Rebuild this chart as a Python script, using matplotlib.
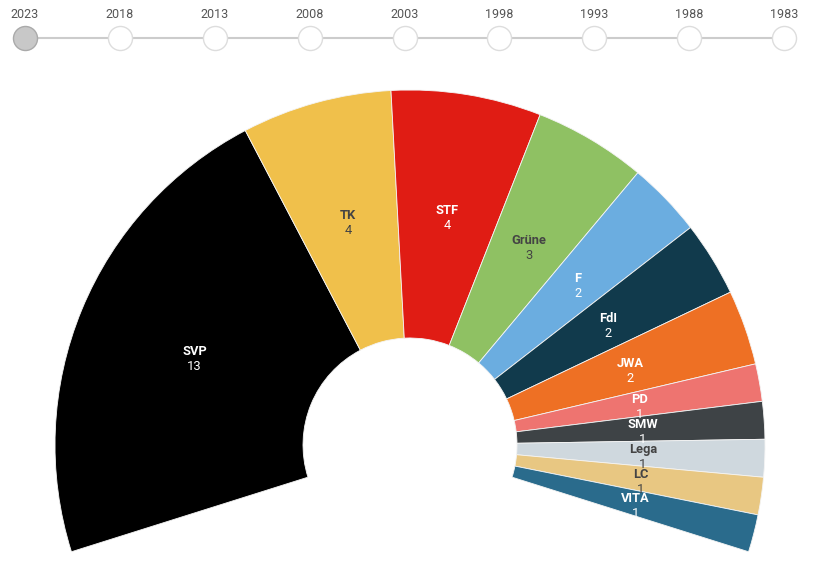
import numpy as np
import matplotlib.pyplot as plt

plt.rcParams['font.family'] = ['Roboto', 'DejaVu Sans']

# election years on the timeline (2023 is selected)
years = ['2023', '2018', '2013', '2008', '2003', '1998', '1993', '1988', '1983']
selected = '2023'

# seats per party, in the order they go round the arc
parties = ['SVP', 'TK', 'STF', 'Grüne', 'F', 'FdI', 'JWA', 'PD', 'SMW', 'Lega', 'LC', 'VITA']
seats = [13, 4, 4, 3, 2, 2, 2, 1, 1, 1, 1, 1]
colors = ['#000000', '#f0c04b', '#e01c14', '#8fc163', '#6badE0', '#113a4c', '#ee7024',
          '#ee7470', '#3e4346', '#cfd8de', '#e8c782', '#2a6b8c']
dark_text = ['TK', 'Grüne', 'Lega', 'LC']

W, H = 813, 564
fig = plt.figure(figsize=(W / 100, H / 100), dpi=100)
ax = fig.add_axes([0, 0, 1, 1])
ax.set_xlim(0, W)
ax.set_ylim(0, H)
ax.set_aspect('equal')
ax.axis('off')

# geometry of the arc (pixels)
cx, cy = 410, H - 445
r_out, r_in = 355, 107
span = 215.0
start = 90 + span / 2

total = sum(seats)
gap = total * (360 - span) / span
vals = seats + [gap]
cols = colors + ['none']
wedges, _ = ax.pie(vals, colors=cols, radius=r_out, center=(cx, cy), startangle=start,
                   counterclock=False, frame=True,
                   wedgeprops=dict(width=r_out - r_in, edgecolor='#f4f4f4', linewidth=0.6))
wedges[-1].set_edgecolor('none')
ax.set_xlim(0, W)
ax.set_ylim(0, H)
ax.axis('off')

# labels in the middle of each slice
r_lab = (r_out + r_in) / 2 + 2
acc = 0
for name, n in zip(parties, seats):
    mid = start - (acc + n / 2) / total * span
    acc += n
    x = cx + r_lab * np.cos(np.radians(mid))
    y = cy + r_lab * np.sin(np.radians(mid)) - 3
    tc = '#444444' if name in dark_text else 'white'
    ax.text(x, y + 1, name, ha='center', va='bottom', fontsize=9.3, fontweight='bold', color=tc)
    ax.text(x, y - 1, str(n), ha='center', va='top', fontsize=9.3, color=tc)

# timeline
xs = np.linspace(25, 784, len(years))
ty = H - 38
ax.plot([xs[0], xs[-1]], [ty, ty], color='#cccccc', lw=1.5, zorder=1)
for x, yr in zip(xs, years):
    if yr == selected:
        ax.scatter([x], [ty], s=300, color='#c8c8c8', edgecolor='#aaaaaa', linewidth=1, zorder=3)
    else:
        ax.scatter([x], [ty], s=300, color='white', edgecolor='#dddddd', linewidth=1, zorder=3)
    ax.text(x, H - 14, yr, ha='center', va='center', fontsize=9, color='#555555')

fig.savefig('out.png', dpi=100)
